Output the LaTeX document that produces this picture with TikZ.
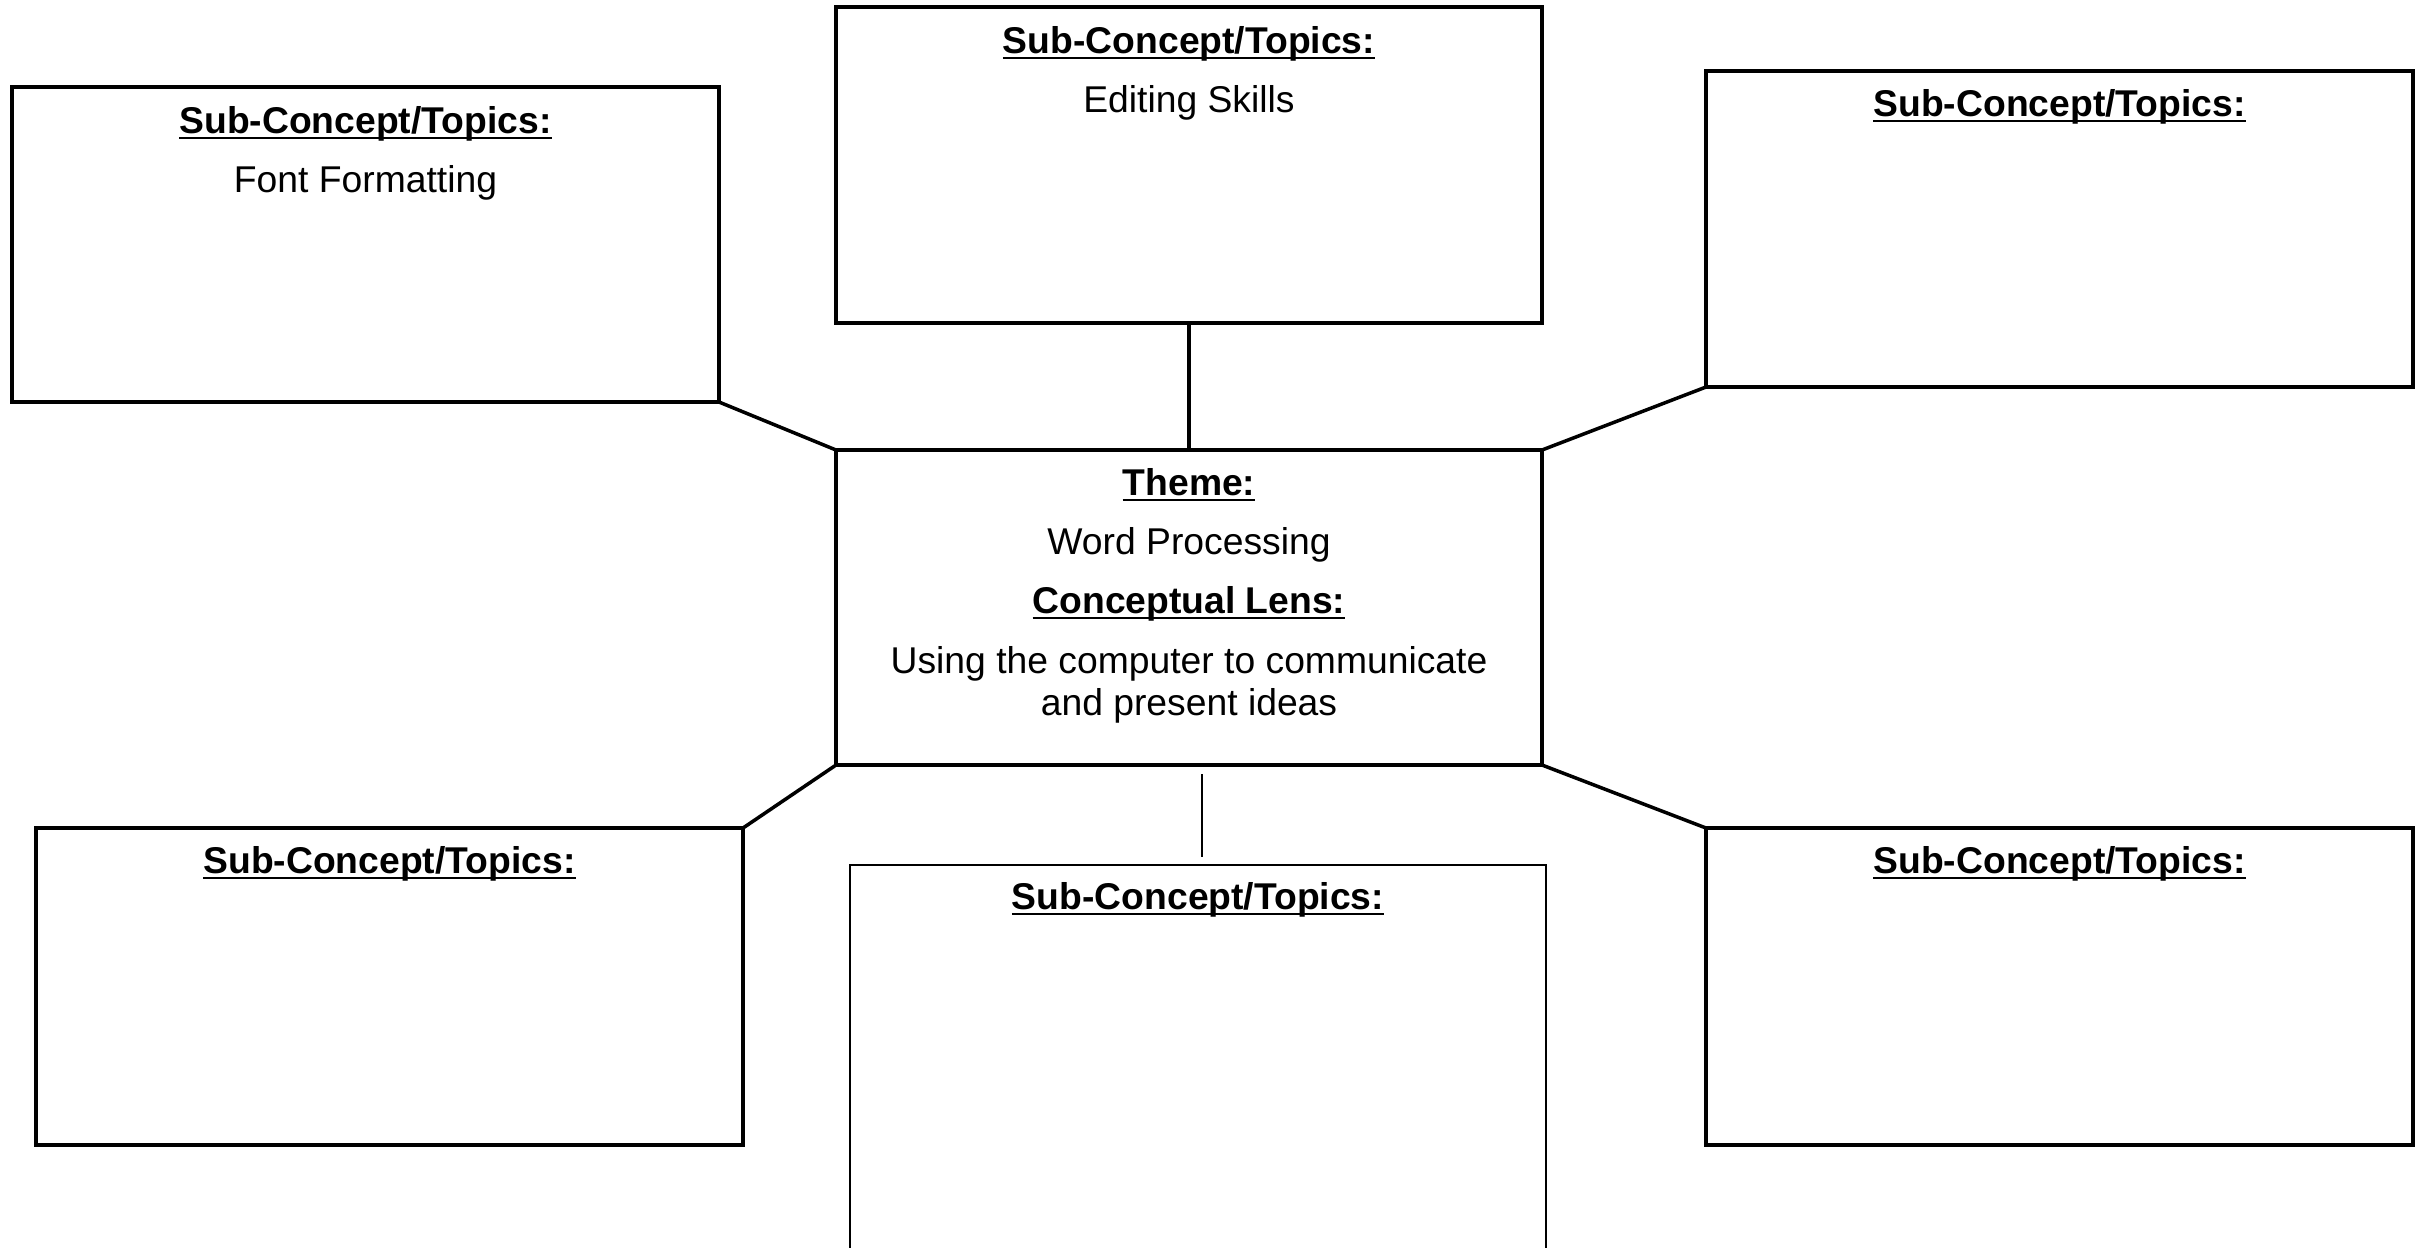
\documentclass[tikz,border=0pt]{standalone}
\usepackage{fontspec}
\setmainfont{Liberation Sans}
\usetikzlibrary{fit,calc}
% bold heading with an underline that sits just below the baseline
\newcommand\ulhead[1]{\setbox0\hbox{\bfseries #1}\rlap{\rule[-1.8pt]{\wd0}{0.8pt}}\box0}
\tikzset{
  box/.style={draw, line width=1pt, inner sep=0pt, outer sep=0pt},
  thinbox/.style={box, line width=0.6pt},
  link/.style={line width=1pt},
  thinlink/.style={line width=0.5pt},
  txt/.style={anchor=base, inner sep=0pt, font=\fontsize{10.6}{12.2}\selectfont},
}
\begin{document}
\begin{tikzpicture}[x=0.01cm, y=-0.01cm]
\useasboundingbox (0,0) rectangle (2424,1247);
\clip (0,0) rectangle (2424,1247);

% corner points of the boxes
\coordinate (tl-a) at (12,87);    \coordinate (tl-b) at (719,402);
\coordinate (tc-a) at (836,7);    \coordinate (tc-b) at (1542,323);
\coordinate (tr-a) at (1706,71);  \coordinate (tr-b) at (2413,387);
\coordinate (ct-a) at (836,450);  \coordinate (ct-b) at (1542,765);
\coordinate (bl-a) at (36,828);   \coordinate (bl-b) at (743,1145);
\coordinate (bc-a) at (850,865);  \coordinate (bc-b) at (1546,1320);
\coordinate (br-a) at (1706,828); \coordinate (br-b) at (2413,1145);

% boxes
\node[box, fit=(tl-a)(tl-b)] (tl) {};
\node[box, fit=(tc-a)(tc-b)] (tc) {};
\node[box, fit=(tr-a)(tr-b)] (tr) {};
\node[box, fit=(ct-a)(ct-b)] (ctr) {};
\node[box, fit=(bl-a)(bl-b)] (bl) {};
\node[thinbox, fit=(bc-a)(bc-b)] (bc) {};
\node[box, fit=(br-a)(br-b)] (br) {};

% connectors
\draw[link] (tc.south) -- (ctr.north);
\draw[link] (tl.south east) -- (ctr.north west);
\draw[link] (tr.south west) -- (ctr.north east);
\draw[link] (ctr.south west) -- (bl.north east);
\draw[link] (ctr.south east) -- (br.north west);
\coordinate (bc-top) at (1202,774);
\coordinate (bc-bot) at (1202,857);
\draw[thinlink] (bc-top) -- (bc-bot);

% box texts
\node[txt] (tl-h) at ($(tl.north)+(0,46)$) {\ulhead{Sub-Concept/Topics:}};
\node[txt] (tl-t) at ($(tl.north)+(0,105)$) {Font Formatting};
\node[txt] (tc-h) at ($(tc.north)+(0,46)$) {\ulhead{Sub-Concept/Topics:}};
\node[txt] (tc-t) at ($(tc.north)+(0,105)$) {Editing Skills};
\node[txt] (tr-h) at ($(tr.north)+(0,45)$) {\ulhead{Sub-Concept/Topics:}};
\node[txt] (bl-h) at ($(bl.north)+(0,45)$) {\ulhead{Sub-Concept/Topics:}};
\node[txt] (bc-h) at ($(bc.north)+(0,44)$) {\ulhead{Sub-Concept/Topics:}};
\node[txt] (br-h) at ($(br.north)+(0,45)$) {\ulhead{Sub-Concept/Topics:}};

\node[txt] (ct-h1) at ($(ctr.north)+(0,45)$) {\ulhead{Theme:}};
\node[txt] (ct-t1) at ($(ctr.north)+(0,104)$) {Word Processing};
\node[txt] (ct-h2) at ($(ctr.north)+(0,163)$) {\ulhead{Conceptual Lens:}};
\node[txt] (ct-t2) at ($(ctr.north)+(0,223)$) {Using the computer to communicate};
\node[txt] (ct-t3) at ($(ctr.north)+(0,265)$) {and present ideas};
\end{tikzpicture}
\end{document}
